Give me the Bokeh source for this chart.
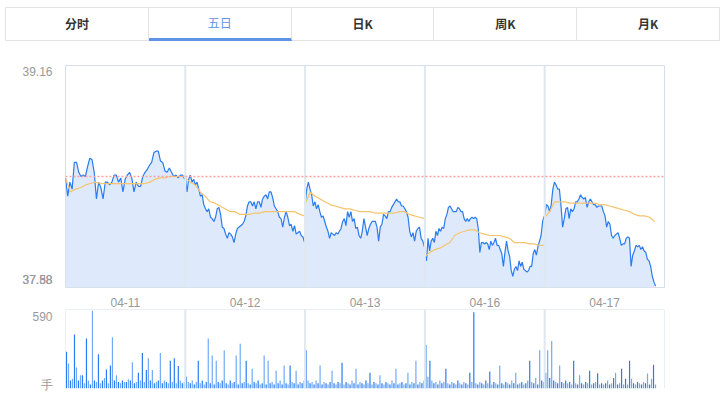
import numpy as np
from bokeh.plotting import figure
from bokeh.models import Span, FixedTicker, Range1d, Div
from bokeh.layouts import column
from bokeh.embed import file_html
from bokeh.resources import INLINE

# ---------------- data ----------------
tab_labels = ["分时", "五日", "日K", "周K", "月K"]
active_tab = "五日"
day_labels = ["04-11", "04-12", "04-13", "04-16", "04-17"]
price_top = 39.16
price_bottom = 37.58
pre_close = 38.37
top_label = "39.16"
low_labels = ["37.58", "37.88"]
vol_top_label = "590"
vol_unit_label = "手"
vol_axis_max = 600
minutes_per_day = 241
last_day_minutes = 223
last_day_avg_minutes = 221

day1_price = [38.36, 38.23, 38.33, 38.28, 38.47, 38.47, 38.40, 38.37, 38.38, 38.37,
              38.44, 38.50, 38.49, 38.40, 38.21, 38.33, 38.29, 38.21, 38.33, 38.33,
              38.31, 38.33, 38.38, 38.38, 38.33, 38.36, 38.26, 38.35, 38.38, 38.40,
              38.36, 38.26, 38.33, 38.30, 38.30, 38.37, 38.40, 38.42, 38.45, 38.47,
              38.54, 38.55, 38.55, 38.48, 38.47, 38.41, 38.40, 38.43, 38.40, 38.37,
              38.38, 38.36, 38.38, 38.38, 38.35]
day2_price = [38.38, 38.26, 38.35, 38.38, 38.33, 38.35, 38.31, 38.33, 38.28, 38.23,
              38.24, 38.17, 38.14, 38.12, 38.14, 38.08, 38.07, 38.05, 38.08, 38.14,
              38.15, 38.10, 38.01, 38.00, 37.96, 37.93, 37.97, 37.96, 37.94, 37.90,
              37.96, 38.00, 38.01, 38.02, 38.03, 38.05, 38.09, 38.16, 38.19, 38.19,
              38.16, 38.19, 38.14, 38.19, 38.19, 38.15, 38.21, 38.23, 38.24, 38.21,
              38.26, 38.26, 38.22, 38.16, 38.14, 38.12, 38.08, 38.07, 38.01, 38.08,
              38.12, 38.08, 38.02, 38.03, 37.98, 38.02, 37.96, 37.97, 37.98, 37.95,
              37.94, 37.90]
day3_price = [38.17, 38.28, 38.33, 38.28, 38.24, 38.16, 38.19, 38.14, 38.17, 38.12,
              38.08, 38.09, 38.05, 38.01, 37.98, 37.93, 37.97, 37.96, 37.95, 37.97,
              37.96, 37.98, 38.00, 38.05, 38.07, 38.02, 38.12, 38.08, 38.12, 38.05,
              38.07, 38.00, 38.01, 37.95, 37.93, 37.98, 38.07, 38.01, 37.95, 38.00,
              38.03, 38.05, 38.05, 38.05, 38.01, 37.91, 38.01, 38.03, 38.10, 38.09,
              38.07, 38.12, 38.12, 38.15, 38.17, 38.19, 38.21, 38.19, 38.19, 38.16,
              38.16, 38.14, 38.12, 38.08, 37.98, 37.94, 37.97, 37.91, 37.98, 38.00,
              38.01, 37.93, 37.91, 37.87]
day4_price = [37.81, 37.77, 37.93, 37.84, 37.91, 37.93, 37.90, 37.98, 37.95, 38.00,
              37.98, 38.01, 38.00, 38.07, 38.10, 38.15, 38.16, 38.14, 38.12, 38.12,
              38.12, 38.15, 38.14, 38.12, 38.12, 38.07, 38.05, 38.07, 38.05, 38.07,
              38.08, 38.07, 38.08, 38.07, 38.00, 37.83, 37.90, 37.90, 37.89, 37.90,
              37.89, 37.85, 37.91, 37.88, 37.90, 37.93, 37.88, 37.88, 37.85, 37.82,
              37.73, 37.83, 37.91, 37.84, 37.80, 37.70, 37.66, 37.71, 37.73, 37.70,
              37.77, 37.73, 37.76, 37.71, 37.70, 37.69, 37.70, 37.73, 37.73, 37.82,
              37.85, 37.81, 37.87, 37.91, 37.95, 38.05, 38.09]
day5_price = [38.09, 38.17, 38.16, 38.12, 38.17, 38.28, 38.33, 38.31, 38.28, 38.28,
              38.16, 38.01, 38.07, 38.14, 38.15, 38.07, 38.14, 38.12, 38.14, 38.19,
              38.19, 38.21, 38.24, 38.22, 38.21, 38.22, 38.15, 38.19, 38.21, 38.19,
              38.17, 38.17, 38.15, 38.16, 38.16, 38.16, 38.12, 38.09, 38.01, 38.05,
              38.03, 37.95, 37.93, 37.95, 37.96, 37.97, 37.93, 37.88, 37.89, 37.89,
              37.93, 37.94, 37.93, 37.73, 37.81, 37.84, 37.88, 37.87, 37.88, 37.85,
              37.87, 37.84, 37.83, 37.78, 37.77, 37.73, 37.66, 37.62, 37.59]

day1_avg = [38.36, 38.26, 38.28, 38.29, 38.31, 38.32, 38.33, 38.32, 38.32, 38.32,
            38.32, 38.32, 38.32, 38.32, 38.32, 38.32, 38.32, 38.33, 38.35, 38.36,
            38.36, 38.37, 38.37, 38.37, 38.37]
day2_avg = [38.36, 38.33, 38.31, 38.26, 38.23, 38.19, 38.18, 38.16, 38.14, 38.12,
            38.12, 38.10, 38.10, 38.10, 38.11, 38.11, 38.12, 38.12, 38.12, 38.12,
            38.12, 38.12, 38.12, 38.10, 38.09]
day3_avg = [38.17, 38.26, 38.23, 38.21, 38.19, 38.17, 38.16, 38.15, 38.14, 38.14,
            38.13, 38.12, 38.12, 38.12, 38.11, 38.11, 38.11, 38.11, 38.11, 38.12,
            38.12, 38.10, 38.09, 38.08, 38.07]
day4_avg = [37.80, 37.83, 37.85, 37.86, 37.88, 37.90, 37.95, 37.97, 37.98, 37.99,
            37.99, 37.97, 37.96, 37.95, 37.95, 37.95, 37.94, 37.93, 37.90, 37.90,
            37.90, 37.89, 37.89, 37.88, 37.88]
day5_avg = [38.08, 38.12, 38.19, 38.19, 38.19, 38.18, 38.18, 38.18, 38.18, 38.18,
            38.18, 38.17, 38.17, 38.16, 38.15, 38.14, 38.13, 38.12, 38.10, 38.09,
            38.09, 38.08, 38.05]

day1_vol = [280, 190, 60, 75, 410, 160, 60, 100, 100, 40,
            380, 60, 30, 590, 60, 50, 260, 40, 60, 80,
            145, 40, 175, 390, 60, 100, 50, 40, 60, 50,
            50, 70, 60, 200, 40, 50, 120, 60, 270, 50,
            140, 230, 60, 140, 40, 50, 60, 270, 40, 60,
            50, 40, 210, 50, 230, 40, 170, 60, 40, 50]
day2_vol = [90, 50, 40, 60, 30, 50, 210, 40, 60, 30,
            50, 380, 40, 250, 30, 210, 50, 40, 60, 290,
            40, 30, 60, 40, 50, 250, 30, 340, 40, 50,
            210, 40, 30, 150, 50, 40, 60, 30, 40, 250,
            30, 210, 40, 50, 30, 135, 40, 60, 30, 175,
            40, 30, 175, 50, 40, 135, 30, 50, 40, 60]
day3_vol = [290, 60, 40, 50, 30, 60, 40, 175, 30, 50,
            40, 30, 50, 135, 40, 30, 50, 40, 195, 30,
            50, 40, 30, 60, 40, 150, 30, 50, 40, 30,
            60, 40, 120, 30, 50, 40, 30, 100, 40, 30,
            50, 40, 30, 60, 40, 150, 30, 40, 50, 30,
            40, 120, 30, 50, 40, 210, 30, 50, 40, 60]
day4_vol = [330, 90, 210, 60, 40, 50, 30, 60, 40, 50,
            150, 40, 30, 50, 40, 30, 60, 40, 30, 50,
            40, 30, 120, 50, 580, 40, 30, 50, 40, 30,
            60, 40, 130, 30, 50, 40, 30, 175, 40, 30,
            50, 40, 30, 60, 40, 120, 30, 40, 50, 30,
            40, 60, 210, 50, 40, 80, 30, 290, 60, 50]
day5_vol = [120, 290, 80, 360, 60, 50, 40, 175, 50, 40,
            60, 40, 50, 30, 210, 40, 30, 100, 40, 30,
            50, 40, 135, 30, 40, 50, 115, 30, 40, 30,
            40, 60, 30, 40, 80, 120, 30, 40, 150, 30,
            75, 30, 210, 75, 40, 30, 50, 40, 30, 50,
            40, 113, 30, 75, 180, 30]

prices = [day1_price, day2_price, day3_price, day4_price, day5_price]
avgs = [day1_avg, day2_avg, day3_avg, day4_avg, day5_avg]
vols = [day1_vol, day2_vol, day3_vol, day4_vol, day5_vol]
bars_per_day = 60

# ---------------- styles ----------------
W = 720
BL, BR = 65, 56
LINE_C = "#2a7bef"
FILL_C = "#deeafb"
AVG_C = "#f5c46c"
SEP_C = "#dfe7f0"
BORDER_C = "#d5dfe9"
LABEL_C = "#999999"
FONT = "Liberation Sans"
n_days = len(day_labels)
x_end = n_days * minutes_per_day

# ---------------- tabs (HTML text) ----------------
cells = []
for lab in tab_labels:
    active = (lab == active_tab)
    style = ("flex:1;text-align:center;line-height:32px;height:33px;box-sizing:border-box;"
             "border-right:1px solid #e3e3e3;font-size:12px;")
    if active:
        style += "color:#5e93e6;font-weight:normal;border-bottom:3px solid #5e93e6;line-height:30px;"
    else:
        style += "color:#333333;font-weight:bold;"
    cells.append(f'<div style="{style}">{lab}</div>')
tabs_html = ('<div style="display:flex;width:715px;height:34px;box-sizing:border-box;'
             'border:1px solid #e3e3e3;border-right:none;font-family:\'Noto Sans CJK SC\',sans-serif;'
             'background:#ffffff;">' + "".join(cells) + '</div>')
tabs = Div(text=tabs_html, width=715, height=34, margin=(7, 0, 0, 5))

# ---------------- price chart ----------------
FRAME_H = 224
p = figure(width=W, height=24 + FRAME_H + 20, x_range=Range1d(0, x_end),
           y_range=Range1d(price_bottom, price_top),
           output_backend="svg", toolbar_location=None,
           min_border_left=BL, min_border_right=BR, min_border_top=24, min_border_bottom=20)
p.grid.visible = False
p.outline_line_color = BORDER_C
p.background_fill_color = "white"

for d in range(n_days):
    pr = prices[d]
    span_min = (last_day_minutes if d == n_days - 1 else minutes_per_day - 1)
    xs = d * minutes_per_day + np.linspace(0, span_min, len(pr))
    p.varea(x=xs, y1=price_bottom, y2=pr, fill_color=FILL_C, fill_alpha=1.0)
for d in range(n_days):
    pr = prices[d]
    span_min = (last_day_minutes if d == n_days - 1 else minutes_per_day - 1)
    xs = d * minutes_per_day + np.linspace(0, span_min, len(pr))
    p.line(xs, pr, line_color=LINE_C, line_width=1.2)
    av = avgs[d]
    span_a = (last_day_avg_minutes if d == n_days - 1 else minutes_per_day - 1)
    xa = d * minutes_per_day + np.linspace(0, span_a, len(av))
    p.line(xa, av, line_color=AVG_C, line_width=1.2)

for d in range(1, n_days):
    p.add_layout(Span(location=d * minutes_per_day, dimension="height", line_color=SEP_C, line_width=2))
p.add_layout(Span(location=pre_close, dimension="width", line_color="#ff9f9f",
                  line_width=1.5, line_dash="2 2"))

centers = [d * minutes_per_day + minutes_per_day / 2 for d in range(n_days)]
p.xaxis.ticker = FixedTicker(ticks=centers)
p.xaxis.major_label_overrides = {c: lab for c, lab in zip(centers, day_labels)}
p.xaxis.major_tick_line_color = None
p.xaxis.minor_tick_line_color = None
p.xaxis.axis_line_color = None
p.xaxis.major_label_standoff = 4
p.xaxis.major_label_text_font = FONT
p.xaxis.major_label_text_font_size = "12px"
p.xaxis.major_label_text_color = LABEL_C

px = (price_top - price_bottom) / FRAME_H
t_top = round(price_top - 6 * px, 5)
t_low1 = round(price_bottom + 8 * px, 5)
t_low2 = round(t_low1 + 0.0001, 5)
p.yaxis.ticker = FixedTicker(ticks=[t_low1, t_low2, t_top])
p.yaxis.major_label_overrides = {t_top: top_label, t_low1: low_labels[0], t_low2: low_labels[1]}
p.yaxis.major_tick_line_color = None
p.yaxis.minor_tick_line_color = None
p.yaxis.axis_line_color = None
p.yaxis.major_label_standoff = 7
p.yaxis.major_label_text_font = FONT
p.yaxis.major_label_text_font_size = "12px"
p.yaxis.major_label_text_color = "#999999"

# ---------------- volume chart ----------------
VFRAME_H = 79
v = figure(width=W, height=VFRAME_H + 3, x_range=p.x_range, y_range=Range1d(0, vol_axis_max),
           output_backend="svg", toolbar_location=None,
           min_border_left=BL, min_border_right=BR, min_border_top=0, min_border_bottom=3)
v.grid.visible = False
v.outline_line_color = None
bx, bh, bc = [], [], []
step = minutes_per_day / bars_per_day
for d in range(n_days):
    for i, vol in enumerate(vols[d]):
        bx.append(d * minutes_per_day + (i + 0.5) * step)
        bh.append(vol)
        bc.append("#2a7bef" if i % 2 == 0 else "#70a9f7")
v.vbar(x=bx, top=bh, width=2.4, bottom=0, fill_color=bc, line_color=None)
for d in range(1, n_days):
    v.add_layout(Span(location=d * minutes_per_day, dimension="height", line_color=SEP_C, line_width=2))
v.add_layout(Span(location=0, dimension="height", line_color=BORDER_C, line_width=1))
v.add_layout(Span(location=x_end, dimension="height", line_color=BORDER_C, line_width=1))
v.add_layout(Span(location=vol_axis_max, dimension="width", line_color=BORDER_C, line_width=1))
v.xaxis.visible = False
vpx = vol_axis_max / VFRAME_H
vt = round(vol_axis_max - 8 * vpx, 3)
v.yaxis.ticker = FixedTicker(ticks=[0, vt])
v.yaxis.major_label_overrides = {vt: vol_top_label, 0: vol_unit_label}
v.yaxis.major_tick_line_color = None
v.yaxis.minor_tick_line_color = None
v.yaxis.axis_line_color = None
v.yaxis.major_label_standoff = 7
v.yaxis.major_label_text_font = FONT
v.yaxis.major_label_text_font_size = "12px"
v.yaxis.major_label_text_color = "#999999"

layout = column(tabs, p, v, spacing=0)
open("out.html", "w").write(file_html(layout, INLINE))
